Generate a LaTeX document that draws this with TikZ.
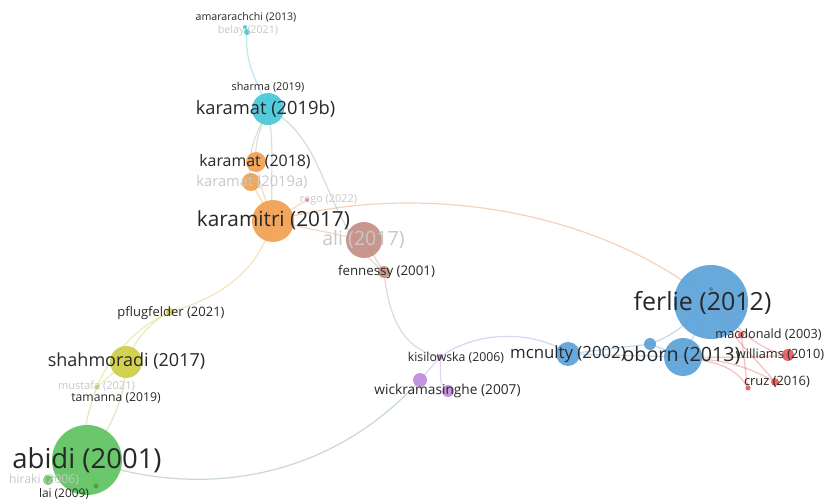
\documentclass[tikz,border=0pt]{standalone}
\usepackage{fontspec}
\setmainfont{Open Sans}
\definecolor{ccyan}{RGB}{70,200,218}
\definecolor{corange}{RGB}{240,160,80}
\definecolor{crose}{RGB}{196,142,132}
\definecolor{cyellow}{RGB}{206,206,70}
\definecolor{cgreen}{RGB}{95,195,95}
\definecolor{cpurple}{RGB}{190,140,222}
\definecolor{cblue}{RGB}{92,162,218}
\definecolor{cred}{RGB}{228,92,92}
\definecolor{labgray}{RGB}{40,40,40}
\definecolor{fadegray}{RGB}{200,200,200}
\pgfdeclarelayer{bg}
\pgfdeclarelayer{edges}
\pgfsetlayers{bg,edges,main}
\tikzset{
  dot/.style={circle, inner sep=0pt, minimum size=#1, draw=none, fill opacity=0.92},
  lab/.style={text=labgray, inner sep=0pt, font=\fontsize{#1}{#1}\selectfont},
  faint/.style={text=fadegray, inner sep=0pt, font=\fontsize{#1}{#1}\selectfont},
  edge/.style={line width=1.2pt, draw opacity=0.38, draw=#1},
}
\begin{document}
\begin{tikzpicture}[x=1pt,y=-1pt]
\begin{pgfonlayer}{bg}
\fill[white] (0,0) rectangle (830,500);
\end{pgfonlayer}
\useasboundingbox (0,0) rectangle (830,500);
% nodes (circles)
\node[dot=4pt, fill=ccyan] (amar) at (245,27) {};
\node[dot=6pt, fill=ccyan] (belay) at (247,32) {};
\node[dot=4pt, fill=ccyan] (sharma) at (268,99) {};
\node[dot=32pt, fill=ccyan] (k19b) at (268,109) {};
\node[dot=20pt, fill=corange] (k18) at (256,162) {};
\node[dot=18pt, fill=corange] (k19a) at (251,182) {};
\node[dot=4pt, fill=crose] (rego) at (307,200) {};
\node[dot=42pt, fill=corange] (kara) at (273,221) {};
\node[dot=36pt, fill=crose] (ali) at (364,240) {};
\node[dot=12pt, fill=crose] (fenn) at (384,272) {};
\node[dot=8pt, fill=cyellow] (pflug) at (170,312) {};
\node[dot=32pt, fill=cyellow] (shah) at (126,362) {};
\node[dot=5pt, fill=cyellow] (must) at (97,387) {};
\node[dot=70pt, fill=cgreen] (abidi) at (87,460) {};
\node[dot=10pt, fill=cgreen] (hira) at (48,480) {};
\node[dot=5pt, fill=cgreen!80!black] (lai) at (96,486) {};
\node[dot=6pt, fill=cpurple] (kisi) at (440,357) {};
\node[dot=14pt, fill=cpurple] (wick1) at (420,380) {};
\node[dot=12pt, fill=cpurple] (wick2) at (448,391) {};
\node[dot=24pt, fill=cblue] (mcn) at (568,354) {};
\node[dot=74pt, fill=cblue] (ferlie) at (711,302) {};
\node[dot=4pt, fill=cblue!80!black] (fdot) at (711,289) {};
\node[dot=38pt, fill=cblue] (oborn) at (683,357) {};
\node[dot=12pt, fill=cblue] (bdot) at (650,344) {};
\node[dot=6pt, fill=cred] (macd) at (741,335) {};
\node[dot=12pt, fill=cred] (will) at (788,355) {};
\node[dot=8pt, fill=cred] (cruz) at (775,382) {};
\node[dot=5pt, fill=cred] (rdot) at (748,388) {};
% edges
\begin{pgfonlayer}{edges}
\draw[edge=ccyan] (amar.center) -- (belay.center);
\draw[edge=ccyan] (belay.center) to[out=-95,in=112] (k19b.center);
\draw[edge=ccyan!50!corange] (k19b.center) to[out=-110,in=95] (k18.center);
\draw[edge=ccyan!50!corange] (k19b.center) to[out=-115,in=100] (k19a.center);
\draw[edge=ccyan!50!corange] (k19b.center) to[out=-80,in=95] (kara.center);
\draw[edge=ccyan!40!crose] (k19b.center) .. controls (330,140) and (320,220) .. (fenn.center);
\draw[edge=corange] (k18.center) to[out=-80,in=110] (kara.center);
\draw[edge=corange] (k19a.center) -- (kara.center);
\draw[edge=corange!60!cred] (kara.center) .. controls (420,180) and (600,210) .. (ferlie.center);
\draw[edge=corange] (kara.center) -- (rego.center);
\draw[edge=corange!50!crose] (kara.center) -- (ali.center);
\draw[edge=crose] (ali.center) -- (fenn.center);
\draw[edge=crose!50!cpurple] (fenn.center) .. controls (390,330) and (410,350) .. (kisi.center);
\draw[edge=corange!40!cyellow] (kara.center) .. controls (255,280) and (210,300) .. (pflug.center);
\draw[edge=cyellow] (pflug.center) .. controls (150,322) and (135,340) .. (shah.center);
\draw[edge=cyellow] (pflug.center) .. controls (130,330) and (105,365) .. (must.center);
\draw[edge=cyellow!60!cgreen] (must.center) to[out=-110,in=100] (abidi.center);
\draw[edge=cyellow] (shah.center) -- (must.center);
\draw[edge=cyellow!60!cgreen] (shah.center) .. controls (125,400) and (110,430) .. (abidi.center);
\draw[edge=cgreen!50!gray] (abidi.center) .. controls (200,500) and (330,480) .. (wick1.center);
\draw[edge=cgreen] (abidi.center) -- (hira.center);
\draw[edge=cgreen] (abidi.center) -- (lai.center);
\draw[edge=cpurple] (kisi.center) -- (wick1.center);
\draw[edge=cpurple] (kisi.center) to[out=-80,in=150] (wick2.center);
\draw[edge=cpurple!50!cblue] (kisi.center) .. controls (480,328) and (540,332) .. (mcn.center);
\draw[edge=cblue] (mcn.center) -- (oborn.center);
\draw[edge=cblue] (mcn.center) -- (bdot.center);
\draw[edge=cblue] (bdot.center) to[out=20,in=-140] (ferlie.center);
\draw[edge=cblue] (bdot.center) -- (oborn.center);
\draw[edge=cblue] (oborn.center) -- (ferlie.center);
\draw[edge=cred] (ferlie.center) -- (macd.center);
\draw[edge=cred] (ferlie.center) to[out=-40,in=170] (will.center);
\draw[edge=cred] (ferlie.center) to[out=-60,in=130] (cruz.center);
\draw[edge=cred] (oborn.center) to[out=0,in=185] (will.center);
\draw[edge=cred] (oborn.center) to[out=-10,in=120] (rdot.center);
\draw[edge=cred] (macd.center) to[out=-80,in=100] (rdot.center);
\draw[edge=cred] (oborn.center) to[out=-5,in=150] (cruz.center);
\end{pgfonlayer}
% labels
\node[lab=10.6] (amarL) at (246,17) {amararachchi (2013)};
\node[faint=10.7] (belayL) at (248,31) {belay (2021)};
\node[lab=10.9] (sharmaL) at (268,87) {sharma (2019)};
\node[lab=18.3] (k19bL) at (265.5,109) {karamat (2019b)};
\node[lab=15.9] (k18L) at (255,162) {karamat (2018)};
\node[faint=14.7] (k19aL) at (252,182) {karamat (2019a)};
\node[faint=10.9] (regoL) at (328.5,200) {rego (2022)};
\node[lab=20.8] (karaL) at (273.5,220) {karamitri (2017)};
\node[faint=19.6] (aliL) at (363.5,240) {ali (2017)};
\node[lab=13.3] (fennL) at (386.5,272) {fennessy (2001)};
\node[lab=13] (pflugL) at (171,313) {pflugfelder (2021)};
\node[lab=18] (shahL) at (126.5,361) {shahmoradi (2017)};
\node[faint=11] (mustL) at (96.5,386) {mustafa (2021)};
\node[lab=12.2] (tamL) at (116,398) {tamanna (2019)};
\node[lab=27.5] (abidiL) at (87,460) {abidi (2001)};
\node[faint=12.2] (hiraL) at (44,480) {hiraki (2006)};
\node[lab=11.9] (laiL) at (64,494) {lai (2009)};
\node[lab=12.3] (kisiL) at (456,358) {kisilowska (2006)};
\node[lab=13.7] (wickL) at (447.5,391) {wickramasinghe (2007)};
\node[lab=16.8] (mcnL) at (568,354) {mcnulty (2002)};
\node[lab=25] (ferlieL) at (702.5,303) {ferlie (2012)};
\node[lab=19.7] (obornL) at (681.5,356) {oborn (2013)};
\node[lab=12.7] (macdL) at (768.5,335) {macdonald (2003)};
\node[lab=12.8] (willL) at (780,355) {williams (2010)};
\node[lab=12.9] (cruzL) at (777,382) {cruz (2016)};
\end{tikzpicture}
\end{document}
